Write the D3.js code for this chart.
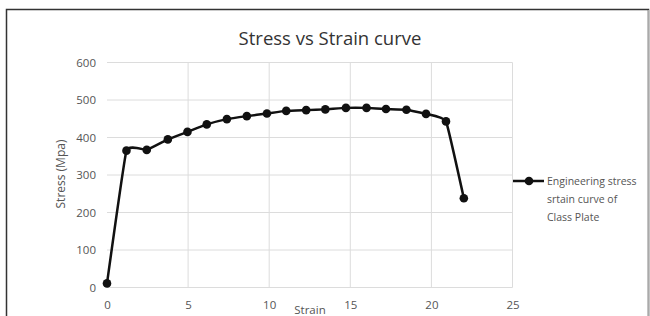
<!DOCTYPE html>
<html>
<head>
<meta charset="utf-8">
<script src="https://cdn.jsdelivr.net/npm/d3@7"></script>
<style>
  body { margin: 0; background: #fff; }
  text { font-family: "Open Sans", sans-serif; }
</style>
</head>
<body>
<div id="chart"></div>
<script>
// values
const strain = [0, 1.2, 2.45, 3.75, 4.96, 6.15, 7.39, 8.62, 9.86, 11.05, 12.28, 13.46, 14.73, 16.0, 17.2, 18.46, 19.67, 20.9, 22.0];
const stress = [11, 365, 367, 395, 415, 435, 449, 457, 464, 471, 473, 475, 479, 479, 476, 474, 463, 443, 238];
const xTicks = [0, 5, 10, 15, 20, 25];
const yTicks = [0, 100, 200, 300, 400, 500, 600];
const legendLines = ["Engineering stress", "srtain curve of", "Class Plate"];

(function () {
  const width = 650;
  const height = 316;

  const data = strain.map((s, i) => ({ strain: s, stress: stress[i] }));

  const svg = d3.select("#chart").append("svg")
    .attr("width", width)
    .attr("height", height);

  // outer frame
  svg.append("rect")
    .attr("x", 6.5).attr("y", 9.5)
    .attr("width", 642).attr("height", 320)
    .attr("fill", "#fff")
    .attr("stroke", "#333")
    .attr("stroke-width", 1.5);
  svg.append("line")
    .attr("x1", 648.5).attr("x2", 648.5)
    .attr("y1", 10).attr("y2", height)
    .attr("stroke", "#aaa").attr("stroke-width", 1.5);

  const x = d3.scaleLinear().domain([0, 25]).range([107, 512.5]);
  const y = d3.scaleLinear().domain([0, 600]).range([287.5, 62.5]);

  // gridlines
  svg.append("g")
    .selectAll("line")
    .data(yTicks)
    .enter()
    .append("line")
    .attr("x1", x(0)).attr("x2", x(25))
    .attr("y1", (d) => y(d)).attr("y2", (d) => y(d))
    .attr("stroke", "#dcdcdc");

  svg.append("g")
    .selectAll("line")
    .data(xTicks.slice(1))
    .enter()
    .append("line")
    .attr("x1", (d) => x(d)).attr("x2", (d) => x(d))
    .attr("y1", y(0)).attr("y2", y(600))
    .attr("stroke", "#dcdcdc");

  // axes
  const yAxis = svg.append("g")
    .attr("transform", `translate(${x(0) - 11}, 0)`)
    .call(d3.axisLeft(y).tickValues(yTicks).tickSize(0).tickPadding(0));
  yAxis.select(".domain").remove();
  yAxis.selectAll("text")
    .style("font-family", "Open Sans, sans-serif")
    .style("font-size", "11.5px")
    .attr("fill", "#555");

  const xAxis = svg.append("g")
    .attr("transform", `translate(0, ${y(0) + 13})`)
    .call(d3.axisBottom(x).tickValues(xTicks).tickSize(0).tickPadding(0));
  xAxis.select(".domain").remove();
  xAxis.selectAll("text")
    .style("font-family", "Open Sans, sans-serif")
    .style("font-size", "11.5px")
    .attr("fill", "#555");

  // titles
  svg.append("text")
    .attr("x", 330).attr("y", 45)
    .attr("text-anchor", "middle")
    .style("font-size", "18.5px")
    .attr("fill", "#333")
    .text("Stress vs Strain curve");

  svg.append("text")
    .attr("transform", `translate(65, 174) rotate(-90)`)
    .attr("text-anchor", "middle")
    .style("font-size", "12px")
    .attr("fill", "#555")
    .text("Stress (Mpa)");

  svg.append("text")
    .attr("x", 310).attr("y", 314)
    .attr("text-anchor", "middle")
    .style("font-size", "11.5px")
    .attr("fill", "#555")
    .text("Strain");

  // curve
  const line = d3.line()
    .x((d) => x(d.strain))
    .y((d) => y(d.stress))
    .curve(d3.curveCardinal.tension(0.7));

  svg.append("path")
    .datum(data)
    .attr("d", line)
    .attr("fill", "none")
    .attr("stroke", "#111")
    .attr("stroke-width", 2.5);

  svg.selectAll(".dot")
    .data(data)
    .enter()
    .append("circle")
    .attr("class", "dot")
    .attr("cx", (d) => x(d.strain))
    .attr("cy", (d) => y(d.stress))
    .attr("r", 4.3)
    .attr("fill", "#111");

  // legend
  const legend = svg.append("g").attr("transform", "translate(513, 181)");
  legend.append("line")
    .attr("x1", 0).attr("x2", 31)
    .attr("stroke", "#111").attr("stroke-width", 2.5);
  legend.append("circle")
    .attr("cx", 16).attr("r", 4.3).attr("fill", "#111");
  legend.selectAll(".lt")
    .data(legendLines)
    .enter()
    .append("text")
    .attr("class", "lt")
    .attr("x", 34)
    .attr("y", (d, i) => i * 18 + 4)
    .style("font-size", "10.5px")
    .attr("fill", "#555")
    .text((d) => d);
})();
</script>
</body>
</html>
